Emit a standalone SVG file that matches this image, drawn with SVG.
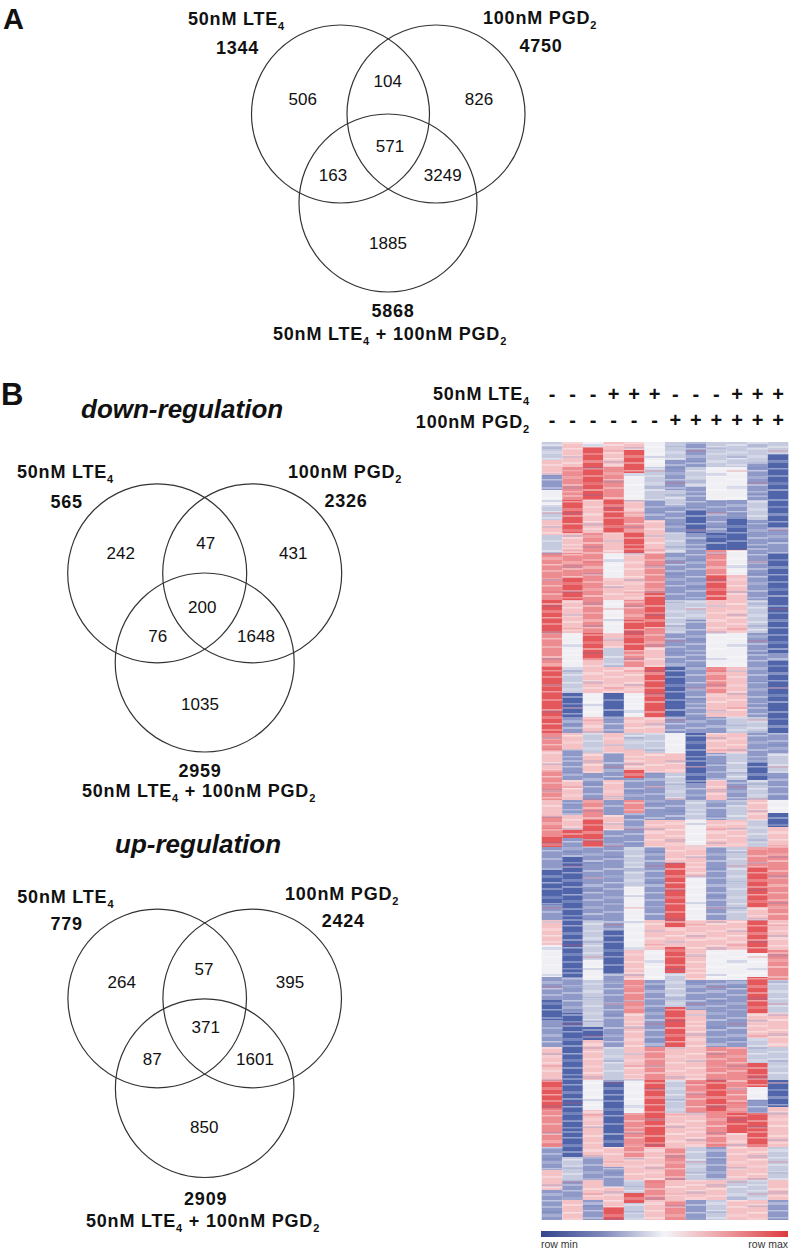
<svg xmlns="http://www.w3.org/2000/svg" width="793" height="1251" viewBox="0 0 793 1251">
<style>
.lb{font-family:"Liberation Sans",Arial,sans-serif;font-weight:bold;font-size:18px;letter-spacing:0.8px;fill:#111}
.num{font-family:"Liberation Sans",Arial,sans-serif;font-size:17px;fill:#111;text-anchor:middle}
.sub{font-size:11px}
.pl{font-family:"Liberation Sans",Arial,sans-serif;font-weight:bold;fill:#111}
.ttl{font-family:"Liberation Sans",Arial,sans-serif;font-weight:bold;font-style:italic;font-size:26px;fill:#111}
.sg{font-family:"Liberation Sans",Arial,sans-serif;font-weight:bold;font-size:20px;fill:#111;text-anchor:middle}
.ring{fill:none;stroke:#333;stroke-width:1.2}
.sm{font-family:"Liberation Sans",Arial,sans-serif;font-size:10.5px;fill:#333}
.r3{fill:#e4575b}.r2{fill:#ec8c90}.r1{fill:#f4c2c5}.w{fill:#efeff4}.b1{fill:#c6cadf}.b2{fill:#8f99c8}.b3{fill:#5064aa}
.wt{fill:#fff}.dk{fill:#6070b0}.rd{fill:#e05058}
</style>
<defs>
<linearGradient id="cbar" x1="0" y1="0" x2="1" y2="0">
<stop offset="0" stop-color="#34458e"/><stop offset="0.25" stop-color="#8088bb"/><stop offset="0.5" stop-color="#f4f4f8"/><stop offset="0.75" stop-color="#ec9a9e"/><stop offset="1" stop-color="#dc3a40"/>
</linearGradient>
<pattern id="st1" patternUnits="userSpaceOnUse" x="541.7" y="442" width="61.65" height="53">
<rect class="wt" x="0" y="2" width="20.55" height="2" fill-opacity=".4"/>
<rect class="wt" x="0" y="9" width="20.55" height="3" fill-opacity=".25"/>
<rect class="wt" x="0" y="16" width="20.55" height="1.5" fill-opacity=".45"/>
<rect class="wt" x="0" y="22" width="20.55" height="2" fill-opacity=".3"/>
<rect class="wt" x="0" y="30" width="20.55" height="3" fill-opacity=".2"/>
<rect class="wt" x="0" y="37" width="20.55" height="1.5" fill-opacity=".4"/>
<rect class="wt" x="0" y="45" width="20.55" height="2" fill-opacity=".3"/>
<rect class="wt" x="20.55" y="0" width="20.55" height="2" fill-opacity=".3"/>
<rect class="wt" x="20.55" y="6" width="20.55" height="1.5" fill-opacity=".4"/>
<rect class="wt" x="20.55" y="13" width="20.55" height="3" fill-opacity=".25"/>
<rect class="wt" x="20.55" y="20" width="20.55" height="2" fill-opacity=".35"/>
<rect class="wt" x="20.55" y="28" width="20.55" height="1.5" fill-opacity=".45"/>
<rect class="wt" x="20.55" y="34" width="20.55" height="3" fill-opacity=".2"/>
<rect class="wt" x="20.55" y="42" width="20.55" height="2" fill-opacity=".35"/>
<rect class="wt" x="20.55" y="49" width="20.55" height="1.5" fill-opacity=".3"/>
<rect class="wt" x="41.1" y="4" width="20.55" height="2" fill-opacity=".35"/>
<rect class="wt" x="41.1" y="11" width="20.55" height="2" fill-opacity=".25"/>
<rect class="wt" x="41.1" y="18" width="20.55" height="3" fill-opacity=".3"/>
<rect class="wt" x="41.1" y="26" width="20.55" height="1.5" fill-opacity=".4"/>
<rect class="wt" x="41.1" y="33" width="20.55" height="2" fill-opacity=".3"/>
<rect class="wt" x="41.1" y="40" width="20.55" height="3" fill-opacity=".2"/>
<rect class="wt" x="41.1" y="47" width="20.55" height="2" fill-opacity=".4"/>
</pattern>
<pattern id="st2" patternUnits="userSpaceOnUse" x="541.7" y="442" width="82.2" height="79">
<rect class="dk" x="0" y="5" width="20.55" height="2" fill-opacity=".2"/>
<rect class="dk" x="0" y="31" width="20.55" height="3" fill-opacity=".18"/>
<rect class="dk" x="0" y="58" width="20.55" height="2" fill-opacity=".22"/>
<rect class="rd" x="0" y="70" width="20.55" height="2" fill-opacity=".2"/>
<rect class="dk" x="20.55" y="14" width="20.55" height="2" fill-opacity=".2"/>
<rect class="dk" x="20.55" y="44" width="20.55" height="3" fill-opacity=".18"/>
<rect class="dk" x="20.55" y="70" width="20.55" height="2" fill-opacity=".22"/>
<rect class="rd" x="20.55" y="28" width="20.55" height="2" fill-opacity=".2"/>
<rect class="dk" x="41.1" y="2" width="20.55" height="3" fill-opacity=".18"/>
<rect class="dk" x="41.1" y="25" width="20.55" height="2" fill-opacity=".22"/>
<rect class="dk" x="41.1" y="52" width="20.55" height="2" fill-opacity=".2"/>
<rect class="rd" x="41.1" y="40" width="20.55" height="2" fill-opacity=".2"/>
<rect class="dk" x="61.65" y="19" width="20.55" height="2" fill-opacity=".2"/>
<rect class="dk" x="61.65" y="38" width="20.55" height="3" fill-opacity=".18"/>
<rect class="dk" x="61.65" y="65" width="20.55" height="2" fill-opacity=".22"/>
<rect class="rd" x="61.65" y="8" width="20.55" height="2" fill-opacity=".2"/>
</pattern>
</defs>
<rect width="793" height="1251" fill="#fff"/>

<!-- Panel A -->
<text class="pl" x="3" y="28.5" font-size="29">A</text>
<g id="A-lte4">
<circle class="ring" cx="340.5" cy="114" r="89"/>
<text class="lb" x="188" y="25">50nM LTE<tspan class="sub" dy="5">4</tspan></text>
<text class="lb" x="237.5" y="54" text-anchor="middle">1344</text>
</g>
<g id="A-pgd2">
<circle class="ring" cx="436" cy="114" r="89"/>
<text class="lb" x="483" y="23.5">100nM PGD<tspan class="sub" dy="5">2</tspan></text>
<text class="lb" x="541" y="52" text-anchor="middle">4750</text>
</g>
<g id="A-combo">
<circle class="ring" cx="388" cy="203" r="89"/>
<text class="lb" x="393" y="316.7" text-anchor="middle">5868</text>
<text class="lb" x="273" y="340">50nM LTE<tspan class="sub" dy="5">4</tspan><tspan dy="-5"> + 100nM PGD</tspan><tspan class="sub" dy="5">2</tspan></text>
</g>
<g id="A-counts">
<text class="num" x="302.7" y="105">506</text>
<text class="num" x="387.7" y="87">104</text>
<text class="num" x="479" y="105">826</text>
<text class="num" x="390" y="151.7">571</text>
<text class="num" x="333" y="181">163</text>
<text class="num" x="442.7" y="181">3249</text>
<text class="num" x="388" y="249">1885</text>
</g>

<!-- Panel B down -->
<text class="pl" x="1" y="405" font-size="31">B</text>
<text class="ttl" x="81" y="418">down-regulation</text>
<g id="Bd-lte4">
<circle class="ring" cx="157.2" cy="573.3" r="89.5"/>
<text class="lb" x="17" y="477.7">50nM LTE<tspan class="sub" dy="5">4</tspan></text>
<text class="lb" x="66.7" y="508.3" text-anchor="middle">565</text>
</g>
<g id="Bd-pgd2">
<circle class="ring" cx="252.2" cy="573.3" r="89.5"/>
<text class="lb" x="288" y="478">100nM PGD<tspan class="sub" dy="5">2</tspan></text>
<text class="lb" x="346" y="506.7" text-anchor="middle">2326</text>
</g>
<g id="Bd-combo">
<circle class="ring" cx="204.7" cy="662.5" r="89.5"/>
<text class="lb" x="200" y="776.7" text-anchor="middle">2959</text>
<text class="lb" x="82" y="797">50nM LTE<tspan class="sub" dy="5">4</tspan><tspan dy="-5"> + 100nM PGD</tspan><tspan class="sub" dy="5">2</tspan></text>
</g>
<g id="Bd-counts">
<text class="num" x="120.7" y="559.3">242</text>
<text class="num" x="205.7" y="549.3">47</text>
<text class="num" x="293.3" y="559.3">431</text>
<text class="num" x="202.3" y="613.3">200</text>
<text class="num" x="157.7" y="642.3">76</text>
<text class="num" x="256" y="642.3">1648</text>
<text class="num" x="200" y="710">1035</text>
</g>

<!-- Panel B up -->
<text class="ttl" x="115" y="853">up-regulation</text>
<g id="Bu-lte4">
<circle class="ring" cx="157.2" cy="998.5" r="89.3"/>
<text class="lb" x="17.3" y="903.3">50nM LTE<tspan class="sub" dy="5">4</tspan></text>
<text class="lb" x="66.7" y="930" text-anchor="middle">779</text>
</g>
<g id="Bu-pgd2">
<circle class="ring" cx="252.2" cy="998.5" r="89.3"/>
<text class="lb" x="285" y="900">100nM PGD<tspan class="sub" dy="5">2</tspan></text>
<text class="lb" x="343.3" y="926.7" text-anchor="middle">2424</text>
</g>
<g id="Bu-combo">
<circle class="ring" cx="204.7" cy="1088.2" r="89.3"/>
<text class="lb" x="205.7" y="1205" text-anchor="middle">2909</text>
<text class="lb" x="86" y="1226.7">50nM LTE<tspan class="sub" dy="5">4</tspan><tspan dy="-5"> + 100nM PGD</tspan><tspan class="sub" dy="5">2</tspan></text>
</g>
<g id="Bu-counts">
<text class="num" x="121.7" y="988.3">264</text>
<text class="num" x="204" y="975">57</text>
<text class="num" x="290" y="988.3">395</text>
<text class="num" x="205.7" y="1033.3">371</text>
<text class="num" x="152.3" y="1065">87</text>
<text class="num" x="255" y="1065">1601</text>
<text class="num" x="204.3" y="1133.3">850</text>
</g>

<!-- Heatmap header -->
<g id="hm-header">
<text class="lb" x="530" y="400" text-anchor="end">50nM LTE<tspan class="sub" dy="5">4</tspan></text>
<text class="lb" x="530" y="428.3" text-anchor="end">100nM PGD<tspan class="sub" dy="5">2</tspan></text>
<text class="sg" y="400.5"><tspan x="552">-</tspan><tspan x="572.5">-</tspan><tspan x="593.1">-</tspan><tspan x="613.6">+</tspan><tspan x="634.2">+</tspan><tspan x="654.7">+</tspan><tspan x="675.3">-</tspan><tspan x="695.8">-</tspan><tspan x="716.4">-</tspan><tspan x="737">+</tspan><tspan x="757.5">+</tspan><tspan x="778">+</tspan></text>
<text class="sg" y="427"><tspan x="552">-</tspan><tspan x="572.5">-</tspan><tspan x="593.1">-</tspan><tspan x="613.6">-</tspan><tspan x="634.2">-</tspan><tspan x="654.7">-</tspan><tspan x="675.3">+</tspan><tspan x="695.8">+</tspan><tspan x="716.4">+</tspan><tspan x="737">+</tspan><tspan x="757.5">+</tspan><tspan x="778">+</tspan></text>
</g>

<!-- Heatmap -->
<g id="heatmap">
<g transform="translate(541.7 0)">
<rect width="20.6" y="442" height="18" class="b1"/><rect width="20.6" y="460" height="15" class="r1"/><rect width="20.6" y="475" height="15" class="b2"/><rect width="20.6" y="490" height="15" class="w"/><rect width="20.6" y="505" height="15" class="b1"/><rect width="20.6" y="520" height="15" class="r1"/><rect width="20.6" y="535" height="18" class="b1"/><rect width="20.6" y="553" height="47" class="r2"/><rect width="20.6" y="600" height="33" class="r3"/><rect width="20.6" y="633" height="34" class="r2"/><rect width="20.6" y="667" height="66" class="r3"/><rect width="20.6" y="733" height="17" class="r2"/><rect width="20.6" y="750" height="20" class="r1"/><rect width="20.6" y="770" height="30" class="r2"/><rect width="20.6" y="800" height="15" class="r1"/><rect width="20.6" y="815" height="20" class="r2"/><rect width="20.6" y="835" height="12" class="r3"/><rect width="20.6" y="847" height="23" class="b2"/><rect width="20.6" y="870" height="35" class="b3"/><rect width="20.6" y="905" height="15" class="b2"/><rect width="20.6" y="920" height="25" class="r1"/><rect width="20.6" y="945" height="32" class="w"/><rect width="20.6" y="977" height="23" class="b2"/><rect width="20.6" y="1000" height="20" class="b3"/><rect width="20.6" y="1020" height="27" class="b2"/><rect width="20.6" y="1047" height="33" class="r1"/><rect width="20.6" y="1080" height="30" class="r3"/><rect width="20.6" y="1110" height="37" class="r2"/><rect width="20.6" y="1147" height="23" class="b2"/><rect width="20.6" y="1170" height="20" class="r1"/><rect width="20.6" y="1190" height="30" class="b2"/>
</g>
<g transform="translate(562.25 0)">
<rect width="20.6" y="442" height="25" class="r1"/><rect width="20.6" y="467" height="33" class="r2"/><rect width="20.6" y="500" height="33" class="r3"/><rect width="20.6" y="533" height="20" class="r1"/><rect width="20.6" y="553" height="25" class="r2"/><rect width="20.6" y="578" height="22" class="r3"/><rect width="20.6" y="600" height="33" class="r1"/><rect width="20.6" y="633" height="34" class="w"/><rect width="20.6" y="667" height="26" class="b1"/><rect width="20.6" y="693" height="24" class="b3"/><rect width="20.6" y="717" height="16" class="b2"/><rect width="20.6" y="733" height="17" class="r1"/><rect width="20.6" y="750" height="30" class="b2"/><rect width="20.6" y="780" height="20" class="r1"/><rect width="20.6" y="800" height="15" class="b2"/><rect width="20.6" y="815" height="15" class="r1"/><rect width="20.6" y="830" height="8" class="r3"/><rect width="20.6" y="838" height="19" class="b2"/><rect width="20.6" y="857" height="120" class="b3"/><rect width="20.6" y="977" height="36" class="b2"/><rect width="20.6" y="1013" height="144" class="b3"/><rect width="20.6" y="1157" height="23" class="b1"/><rect width="20.6" y="1180" height="20" class="b2"/><rect width="20.6" y="1200" height="20" class="r1"/>
</g>
<g transform="translate(582.8 0)">
<rect width="20.6" y="442" height="5" class="w"/><rect width="20.6" y="447" height="53" class="r3"/><rect width="20.6" y="500" height="33" class="r1"/><rect width="20.6" y="533" height="100" class="r2"/><rect width="20.6" y="633" height="27" class="r3"/><rect width="20.6" y="660" height="33" class="r1"/><rect width="20.6" y="693" height="24" class="w"/><rect width="20.6" y="717" height="16" class="r1"/><rect width="20.6" y="733" height="20" class="b1"/><rect width="20.6" y="753" height="20" class="r1"/><rect width="20.6" y="773" height="27" class="b2"/><rect width="20.6" y="800" height="20" class="r2"/><rect width="20.6" y="820" height="27" class="r3"/><rect width="20.6" y="847" height="73" class="b2"/><rect width="20.6" y="920" height="40" class="b1"/><rect width="20.6" y="960" height="20" class="w"/><rect width="20.6" y="980" height="47" class="b1"/><rect width="20.6" y="1027" height="13" class="b3"/><rect width="20.6" y="1040" height="40" class="r1"/><rect width="20.6" y="1080" height="30" class="w"/><rect width="20.6" y="1110" height="47" class="r1"/><rect width="20.6" y="1157" height="23" class="b2"/><rect width="20.6" y="1180" height="20" class="r1"/><rect width="20.6" y="1200" height="20" class="b2"/>
</g>
<g transform="translate(603.35 0)">
<rect width="20.6" y="442" height="25" class="r1"/><rect width="20.6" y="467" height="33" class="r2"/><rect width="20.6" y="500" height="33" class="r3"/><rect width="20.6" y="533" height="20" class="r1"/><rect width="20.6" y="553" height="25" class="w"/><rect width="20.6" y="578" height="22" class="r1"/><rect width="20.6" y="600" height="33" class="w"/><rect width="20.6" y="633" height="15" class="r1"/><rect width="20.6" y="648" height="19" class="b1"/><rect width="20.6" y="667" height="26" class="r1"/><rect width="20.6" y="693" height="24" class="b3"/><rect width="20.6" y="717" height="16" class="b2"/><rect width="20.6" y="733" height="20" class="r1"/><rect width="20.6" y="753" height="27" class="b2"/><rect width="20.6" y="780" height="20" class="r1"/><rect width="20.6" y="800" height="15" class="b2"/><rect width="20.6" y="815" height="15" class="r1"/><rect width="20.6" y="830" height="100" class="b2"/><rect width="20.6" y="930" height="43" class="b3"/><rect width="20.6" y="973" height="74" class="b2"/><rect width="20.6" y="1047" height="33" class="b1"/><rect width="20.6" y="1080" height="67" class="b3"/><rect width="20.6" y="1147" height="20" class="r1"/><rect width="20.6" y="1167" height="20" class="b2"/><rect width="20.6" y="1187" height="20" class="r1"/><rect width="20.6" y="1207" height="13" class="r3"/>
</g>
<g transform="translate(623.9 0)">
<rect width="20.6" y="442" height="8" class="r1"/><rect width="20.6" y="450" height="23" class="r3"/><rect width="20.6" y="473" height="27" class="w"/><rect width="20.6" y="500" height="15" class="r1"/><rect width="20.6" y="515" height="18" class="r2"/><rect width="20.6" y="533" height="20" class="r3"/><rect width="20.6" y="553" height="47" class="r1"/><rect width="20.6" y="600" height="20" class="r2"/><rect width="20.6" y="620" height="30" class="r3"/><rect width="20.6" y="650" height="17" class="r2"/><rect width="20.6" y="667" height="26" class="r1"/><rect width="20.6" y="693" height="24" class="w"/><rect width="20.6" y="717" height="16" class="r1"/><rect width="20.6" y="733" height="17" class="b1"/><rect width="20.6" y="750" height="20" class="r1"/><rect width="20.6" y="770" height="8" class="r3"/><rect width="20.6" y="778" height="22" class="b2"/><rect width="20.6" y="800" height="13" class="r2"/><rect width="20.6" y="813" height="34" class="b2"/><rect width="20.6" y="847" height="40" class="b1"/><rect width="20.6" y="887" height="63" class="w"/><rect width="20.6" y="950" height="30" class="r1"/><rect width="20.6" y="980" height="33" class="r2"/><rect width="20.6" y="1013" height="67" class="r1"/><rect width="20.6" y="1080" height="33" class="w"/><rect width="20.6" y="1113" height="44" class="r2"/><rect width="20.6" y="1157" height="23" class="r1"/><rect width="20.6" y="1180" height="13" class="b1"/><rect width="20.6" y="1193" height="10" class="r3"/><rect width="20.6" y="1203" height="17" class="b1"/>
</g>
<g transform="translate(644.45 0)">
<rect width="20.6" y="442" height="25" class="w"/><rect width="20.6" y="467" height="33" class="b1"/><rect width="20.6" y="500" height="20" class="b2"/><rect width="20.6" y="520" height="33" class="r1"/><rect width="20.6" y="553" height="40" class="r2"/><rect width="20.6" y="593" height="34" class="r3"/><rect width="20.6" y="627" height="20" class="r2"/><rect width="20.6" y="647" height="20" class="r1"/><rect width="20.6" y="667" height="50" class="r3"/><rect width="20.6" y="717" height="16" class="r1"/><rect width="20.6" y="733" height="20" class="b1"/><rect width="20.6" y="753" height="20" class="r1"/><rect width="20.6" y="773" height="47" class="b2"/><rect width="20.6" y="820" height="27" class="r1"/><rect width="20.6" y="847" height="73" class="b2"/><rect width="20.6" y="920" height="30" class="r1"/><rect width="20.6" y="950" height="30" class="w"/><rect width="20.6" y="980" height="67" class="b2"/><rect width="20.6" y="1047" height="33" class="r2"/><rect width="20.6" y="1080" height="67" class="r3"/><rect width="20.6" y="1147" height="33" class="r1"/><rect width="20.6" y="1180" height="20" class="r2"/><rect width="20.6" y="1200" height="20" class="r1"/>
</g>
<g transform="translate(665 0)">
<rect width="20.6" y="442" height="18" class="b1"/><rect width="20.6" y="460" height="30" class="b2"/><rect width="20.6" y="490" height="15" class="b1"/><rect width="20.6" y="505" height="28" class="b2"/><rect width="20.6" y="533" height="20" class="b1"/><rect width="20.6" y="553" height="47" class="b2"/><rect width="20.6" y="600" height="33" class="b1"/><rect width="20.6" y="633" height="34" class="b2"/><rect width="20.6" y="667" height="50" class="b3"/><rect width="20.6" y="717" height="16" class="b2"/><rect width="20.6" y="733" height="20" class="w"/><rect width="20.6" y="753" height="20" class="r1"/><rect width="20.6" y="773" height="27" class="b1"/><rect width="20.6" y="800" height="20" class="b2"/><rect width="20.6" y="820" height="43" class="r1"/><rect width="20.6" y="863" height="64" class="r3"/><rect width="20.6" y="927" height="20" class="r1"/><rect width="20.6" y="947" height="26" class="r3"/><rect width="20.6" y="973" height="34" class="b1"/><rect width="20.6" y="1007" height="40" class="r3"/><rect width="20.6" y="1047" height="33" class="r1"/><rect width="20.6" y="1080" height="33" class="b1"/><rect width="20.6" y="1113" height="34" class="r1"/><rect width="20.6" y="1147" height="33" class="r2"/><rect width="20.6" y="1180" height="20" class="r1"/><rect width="20.6" y="1200" height="20" class="r2"/>
</g>
<g transform="translate(685.55 0)">
<rect width="20.6" y="442" height="25" class="b2"/><rect width="20.6" y="467" height="20" class="b1"/><rect width="20.6" y="487" height="23" class="b2"/><rect width="20.6" y="510" height="23" class="b3"/><rect width="20.6" y="533" height="67" class="b2"/><rect width="20.6" y="600" height="20" class="b1"/><rect width="20.6" y="620" height="113" class="b2"/><rect width="20.6" y="733" height="50" class="b3"/><rect width="20.6" y="783" height="17" class="b2"/><rect width="20.6" y="800" height="20" class="b1"/><rect width="20.6" y="820" height="27" class="w"/><rect width="20.6" y="847" height="30" class="r1"/><rect width="20.6" y="877" height="43" class="w"/><rect width="20.6" y="920" height="60" class="r1"/><rect width="20.6" y="980" height="30" class="b2"/><rect width="20.6" y="1010" height="70" class="r1"/><rect width="20.6" y="1080" height="33" class="r2"/><rect width="20.6" y="1113" height="34" class="r1"/><rect width="20.6" y="1147" height="33" class="b1"/><rect width="20.6" y="1180" height="20" class="r1"/><rect width="20.6" y="1200" height="20" class="b2"/>
</g>
<g transform="translate(706.1 0)">
<rect width="20.6" y="442" height="25" class="b1"/><rect width="20.6" y="467" height="33" class="w"/><rect width="20.6" y="500" height="33" class="b2"/><rect width="20.6" y="533" height="17" class="b3"/><rect width="20.6" y="550" height="25" class="r2"/><rect width="20.6" y="575" height="25" class="r3"/><rect width="20.6" y="600" height="33" class="r1"/><rect width="20.6" y="633" height="34" class="w"/><rect width="20.6" y="667" height="26" class="r2"/><rect width="20.6" y="693" height="24" class="r1"/><rect width="20.6" y="717" height="16" class="b2"/><rect width="20.6" y="733" height="20" class="r1"/><rect width="20.6" y="753" height="27" class="b2"/><rect width="20.6" y="780" height="20" class="r1"/><rect width="20.6" y="800" height="20" class="b2"/><rect width="20.6" y="820" height="27" class="r1"/><rect width="20.6" y="847" height="73" class="b2"/><rect width="20.6" y="920" height="30" class="r1"/><rect width="20.6" y="950" height="30" class="w"/><rect width="20.6" y="980" height="67" class="b2"/><rect width="20.6" y="1047" height="33" class="r2"/><rect width="20.6" y="1080" height="33" class="r3"/><rect width="20.6" y="1113" height="34" class="r2"/><rect width="20.6" y="1147" height="33" class="b2"/><rect width="20.6" y="1180" height="20" class="r1"/><rect width="20.6" y="1200" height="20" class="b1"/>
</g>
<g transform="translate(726.65 0)">
<rect width="20.6" y="442" height="25" class="b1"/><rect width="20.6" y="467" height="33" class="w"/><rect width="20.6" y="500" height="17" class="b2"/><rect width="20.6" y="517" height="33" class="b3"/><rect width="20.6" y="550" height="25" class="w"/><rect width="20.6" y="575" height="58" class="r1"/><rect width="20.6" y="633" height="34" class="w"/><rect width="20.6" y="667" height="50" class="r1"/><rect width="20.6" y="717" height="16" class="b1"/><rect width="20.6" y="733" height="20" class="r1"/><rect width="20.6" y="753" height="27" class="b1"/><rect width="20.6" y="780" height="20" class="b2"/><rect width="20.6" y="800" height="20" class="b1"/><rect width="20.6" y="820" height="27" class="r1"/><rect width="20.6" y="847" height="73" class="b1"/><rect width="20.6" y="920" height="30" class="r1"/><rect width="20.6" y="950" height="30" class="w"/><rect width="20.6" y="980" height="67" class="b2"/><rect width="20.6" y="1047" height="33" class="r2"/><rect width="20.6" y="1080" height="33" class="r2"/><rect width="20.6" y="1113" height="20" class="r3"/><rect width="20.6" y="1133" height="47" class="r1"/><rect width="20.6" y="1180" height="20" class="b1"/><rect width="20.6" y="1200" height="20" class="r1"/>
</g>
<g transform="translate(747.2 0)">
<rect width="20.6" y="442" height="20" class="b1"/><rect width="20.6" y="462" height="38" class="b2"/><rect width="20.6" y="500" height="20" class="b1"/><rect width="20.6" y="520" height="80" class="b2"/><rect width="20.6" y="600" height="33" class="b1"/><rect width="20.6" y="633" height="84" class="b2"/><rect width="20.6" y="717" height="16" class="b1"/><rect width="20.6" y="733" height="30" class="b2"/><rect width="20.6" y="763" height="17" class="b3"/><rect width="20.6" y="780" height="20" class="b1"/><rect width="20.6" y="800" height="20" class="r1"/><rect width="20.6" y="820" height="27" class="b1"/><rect width="20.6" y="847" height="20" class="r2"/><rect width="20.6" y="867" height="40" class="r3"/><rect width="20.6" y="907" height="13" class="r1"/><rect width="20.6" y="920" height="33" class="r3"/><rect width="20.6" y="953" height="24" class="w"/><rect width="20.6" y="977" height="36" class="r3"/><rect width="20.6" y="1013" height="25" class="r1"/><rect width="20.6" y="1038" height="25" class="b1"/><rect width="20.6" y="1063" height="24" class="r3"/><rect width="20.6" y="1087" height="13" class="w"/><rect width="20.6" y="1100" height="13" class="b2"/><rect width="20.6" y="1113" height="34" class="r3"/><rect width="20.6" y="1147" height="33" class="r1"/><rect width="20.6" y="1180" height="20" class="b1"/><rect width="20.6" y="1200" height="20" class="r1"/>
</g>
<g transform="translate(767.75 0)">
<rect width="20.6" y="442" height="12" class="b1"/><rect width="20.6" y="454" height="73" class="b3"/><rect width="20.6" y="527" height="26" class="b2"/><rect width="20.6" y="553" height="100" class="b3"/><rect width="20.6" y="653" height="8" class="b2"/><rect width="20.6" y="661" height="72" class="b3"/><rect width="20.6" y="733" height="20" class="b2"/><rect width="20.6" y="753" height="20" class="b1"/><rect width="20.6" y="773" height="27" class="b2"/><rect width="20.6" y="800" height="13" class="w"/><rect width="20.6" y="813" height="14" class="b3"/><rect width="20.6" y="827" height="20" class="r1"/><rect width="20.6" y="847" height="73" class="r2"/><rect width="20.6" y="920" height="30" class="r1"/><rect width="20.6" y="950" height="30" class="r2"/><rect width="20.6" y="980" height="33" class="b1"/><rect width="20.6" y="1013" height="34" class="r1"/><rect width="20.6" y="1047" height="33" class="b1"/><rect width="20.6" y="1080" height="27" class="b3"/><rect width="20.6" y="1107" height="40" class="r1"/><rect width="20.6" y="1147" height="33" class="b1"/><rect width="20.6" y="1180" height="20" class="r1"/><rect width="20.6" y="1200" height="20" class="b2"/>
</g>
<rect x="541.7" y="442" width="246.6" height="778" fill="url(#st1)"/>
<rect x="541.7" y="442" width="246.6" height="778" fill="url(#st2)"/>
</g>

<!-- Colour legend -->
<g id="legend">
<rect x="541" y="1231" width="247" height="6" fill="url(#cbar)"/>
<text class="sm" x="541" y="1248">row min</text>
<text class="sm" x="788" y="1248" text-anchor="end">row max</text>
</g>
</svg>
